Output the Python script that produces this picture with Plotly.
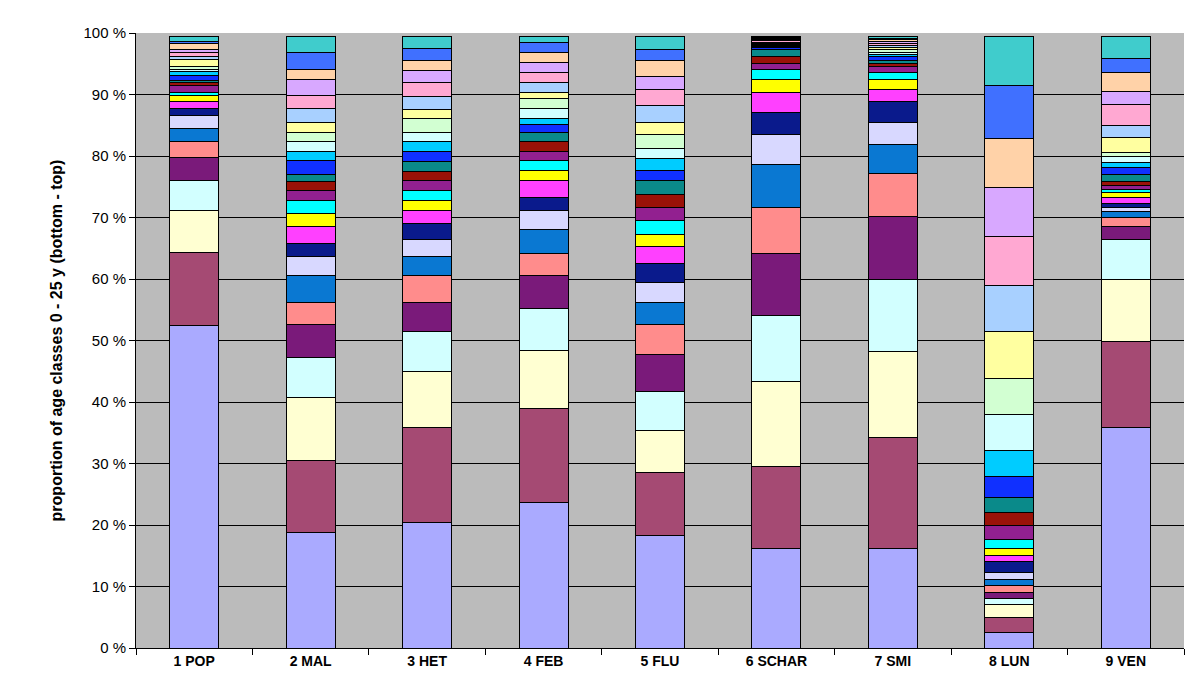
import plotly.graph_objects as go

categories = ["1 POP", "2 MAL", "3 HET", "4 FEB", "5 FLU", "6 SCHAR", "7 SMI", "8 LUN", "9 VEN"]

# percentage of each age class (0 .. 25 y) per category, bottom -> top
pop = [52.5, 11.8, 6.9, 4.8, 3.8, 2.6, 2.15, 2.05, 1.2, 1.0, 1.0, 0.55, 1.1, 0.5, 0.4, 0.8, 0.55, 0.4, 0.5, 1.1, 0.55, 0.5, 0.5, 1.0, 0.4, 0.8]
mal = [18.8, 11.7, 10.2, 6.5, 5.4, 3.65, 4.35, 3.1, 2.15, 2.75, 2.0, 2.1, 1.7, 1.5, 1.1, 2.2, 1.6, 1.6, 1.5, 1.6, 2.2, 2.1, 2.7, 1.5, 2.9, 2.55]
het = [20.4, 15.5, 9.1, 6.5, 4.75, 4.35, 3.1, 2.7, 2.7, 2.0, 1.65, 1.6, 1.6, 1.5, 1.6, 1.75, 1.5, 1.6, 2.2, 1.5, 2.1, 2.2, 2.05, 1.65, 1.8, 2.05]
feb = [23.6, 15.4, 9.35, 6.85, 5.4, 3.6, 3.8, 3.1, 2.2, 2.7, 1.6, 1.65, 1.55, 1.6, 1.5, 1.2, 1.0, 1.6, 1.65, 1.05, 1.6, 1.65, 1.6, 1.5, 1.65, 1.05]
flu = [18.3, 10.2, 6.9, 6.3, 6.0, 4.9, 3.6, 3.25, 3.15, 2.7, 2.0, 2.2, 2.15, 2.15, 2.2, 1.6, 2.05, 1.6, 2.2, 2.0, 2.75, 2.65, 2.15, 2.6, 1.65, 2.2]
schar = [16.2, 13.3, 13.9, 10.7, 10.1, 7.45, 7.05, 4.8, 3.65, 3.2, 2.15, 1.5, 1.1, 1.1, 1.1, 0.3, 0.25, 0.15, 0.15, 0.2, 0.15, 0.2, 0.2, 0.2, 0.15, 0.2]
smi = [16.2, 18.0, 14.0, 11.8, 10.2, 6.9, 4.75, 3.65, 3.3, 2.0, 1.6, 1.2, 0.9, 0.6, 0.5, 0.5, 0.45, 0.35, 0.35, 0.4, 0.3, 0.35, 0.3, 0.35, 0.2, 0.3]
lun = [2.6, 2.3, 2.1, 1.1, 1.0, 1.0, 1.0, 1.2, 1.7, 1.0, 1.2, 1.4, 2.3, 2.1, 2.5, 3.4, 4.2, 5.9, 5.9, 7.5, 7.6, 7.9, 8.0, 8.0, 8.6, 7.95]
ven = [35.8, 14.0, 10.2, 6.4, 2.1, 1.5, 1.0, 0.6, 0.7, 0.9, 0.8, 0.6, 0.6, 0.6, 1.2, 1.2, 0.8, 1.0, 0.5, 2.5, 2.0, 3.3, 2.2, 3.1, 2.3, 3.55]

age_classes = [f"{i} y" for i in range(26)]

colors = ["#AAAAFF", "#A54A73", "#FFFFD2", "#D2FFFF", "#7A1A7A", "#FF8C8C",
          "#0A78D2", "#D8D8FF", "#0A1A8C", "#FF40FF", "#FFFF00", "#00FFFF",
          "#922090", "#9A1208", "#0A8A8A", "#1030FF", "#00CCFF", "#D2FFFF",
          "#D2FFD2", "#FFFFA0", "#A8D0FF", "#FFA8D2", "#D8A8FF", "#FFD2A8",
          "#4070FF", "#40CCCC"]

series = [pop, mal, het, feb, flu, schar, smi, lun, ven]

fig = go.Figure()
for k, name in enumerate(age_classes):
    fig.add_trace(go.Bar(
        x=categories,
        y=[s[k] for s in series],
        name=name,
        marker=dict(color=colors[k], line=dict(color="black", width=1)),
        hovertemplate="%{x}<br>" + name + ": %{y} %<extra></extra>",
    ))

fig.update_layout(
    barmode="stack",
    bargap=0.58,
    width=1200, height=689,
    margin=dict(l=128, r=24, t=25, b=49),
    paper_bgcolor="white",
    plot_bgcolor="#BBBBBB",
    showlegend=False,
    font=dict(family="Arial, Liberation Sans, sans-serif", color="black"),
)
fig.update_yaxes(
    range=[0, 100], tick0=0, dtick=10, ticksuffix=" %",
    showgrid=True, gridcolor="black", gridwidth=1,
    showline=True, linecolor="black", linewidth=1,
    ticks="outside", ticklen=6, tickcolor="black",
    tickfont=dict(size=15),
    zeroline=False,
    title=dict(text="<b>proportion of age classes 0 - 25 y (bottom - top)</b>", font=dict(size=16), standoff=16),
)
fig.update_xaxes(
    showline=True, linecolor="black", linewidth=1,
    ticks="outside", tickson="boundaries", ticklen=6, tickcolor="black",
    tickfont=dict(size=14),
    tickvals=categories,
    ticktext=[f"<b>{c}</b>" for c in categories],
)

fig.write_html("out.html")
